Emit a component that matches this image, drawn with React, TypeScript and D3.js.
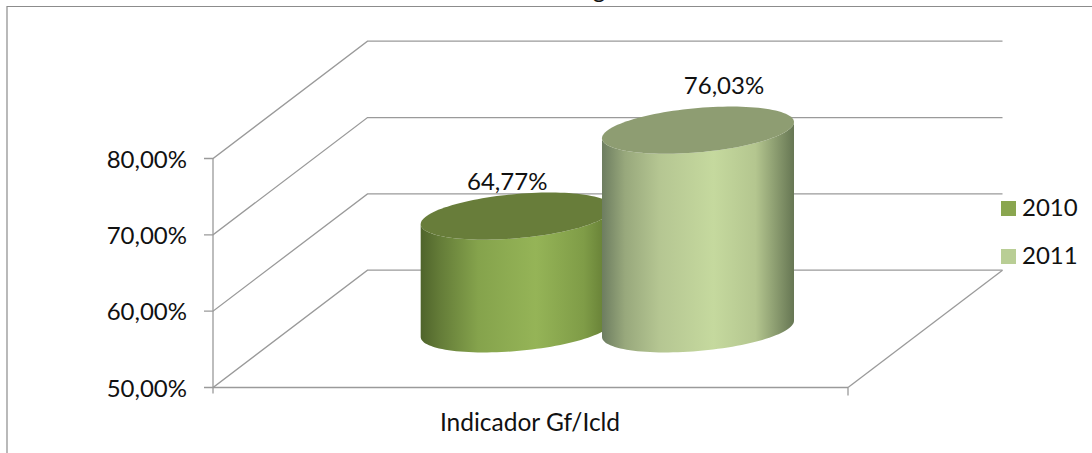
import React from "react";
import * as d3 from "d3";

const seriesNames = ["2010", "2011"];
const seriesValues = [64.77, 76.03];
const valueLabels = ["64,77%", "76,03%"];
const categoryName = "Indicador Gf/Icld";
const clippedTitleGlyph = "g";
const tickValues = [50, 60, 70, 80];
const tickLabels = ["50,00%", "60,00%", "70,00%", "80,00%"];
const legendColors = ["#8aa64f", "#b9ce95"];

const sideStops = [
  [
    ["0%", "#4f642b"],
    ["10%", "#647c38"],
    ["30%", "#85a34c"],
    ["60%", "#95b457"],
    ["85%", "#7f9c47"],
    ["100%", "#5f7731"],
  ],
  [
    ["0%", "#6d7d60"],
    ["12%", "#98a87c"],
    ["30%", "#b5c692"],
    ["58%", "#c5d99e"],
    ["80%", "#b4c68f"],
    ["100%", "#667653"],
  ],
];
const topColors = ["#687d3a", "#8e9d72"];

const FONT = "Lato, 'Open Sans', sans-serif";
const GRID = "#9a9a9a";

const y = d3.scaleLinear().domain([50, 80]).range([387.5, 158.5]);
const floorX = d3.scaleLinear().domain([0, 1]).range([213, 848]);
const depth = { dx: 154.5, dy: -117.3 };
const cat = d3.scaleBand().domain(seriesNames).range([420.7, 794]).paddingInner(-0.059);

const rx = 96;
const ry = 23.6;
const phi = (-20 * Math.PI) / 180;
const baseCy = y(50) + depth.dy / 2;
const h = (v: number) => y(50) - y(v);

function ellipsePt(cx: number, cy: number, t: number): [number, number] {
  return [cx + rx * Math.cos(t), cy + ry * Math.sin(t + phi)];
}
const line = d3.line();
const ts = d3.range(0, 2 * Math.PI + 0.001, Math.PI / 60);
const ellipse = (cx: number, cy: number) => line(ts.map((t) => ellipsePt(cx, cy, t))) + "Z";
function side(cx: number, topCy: number, botCy: number) {
  const lower = d3.range(0, Math.PI + 0.001, Math.PI / 60);
  const bottom = lower.map((t) => ellipsePt(cx, botCy, t));
  const top = lower.slice().reverse().map((t) => ellipsePt(cx, topCy, t));
  return line([...bottom, ...top]) + "Z";
}

export default function App() {
  const x0 = floorX(0);
  const x1 = floorX(1);
  const centers = seriesNames.map((s) => (cat(s) as number) + cat.bandwidth() / 2);
  return (
    <svg
      width={1092}
      height={453}
      style={{ position: "absolute", left: 0, top: 0, background: "#fff", fontFamily: FONT }}
    >
      <defs>
        {sideStops.map((stops, i) => (
          <linearGradient key={i} id={`side${i}`} x1="0" x2="1" y1="0" y2="0">
            {stops.map(([o, c]) => (
              <stop key={o} offset={o} stopColor={c} />
            ))}
          </linearGradient>
        ))}
      </defs>
      <path d="M7,453V6.5H1092" fill="none" stroke="#8c8c8c" strokeWidth={1.2} />
      <text x={599} y={-2} textAnchor="middle" fontSize={24} fill="#111">
        {clippedTitleGlyph}
      </text>

      {/* walls */}
      <line x1={x0} x2={x0} y1={y(80)} y2={y(50) + 6} stroke={GRID} strokeWidth={1.3} />
      <line x1={x1} x2={x1} y1={y(50)} y2={y(50) + 8} stroke={GRID} strokeWidth={1.3} />
      <line x1={x0} x2={x1} y1={y(50)} y2={y(50)} stroke={GRID} strokeWidth={1.3} />
      <line x1={x1} x2={x1 + depth.dx} y1={y(50)} y2={y(50) + depth.dy} stroke={GRID} strokeWidth={1.3} />
      {tickValues.map((v, i) => (
        <g key={v}>
          <path
            d={`M${x0 - 9},${y(v)}H${x0}L${x0 + depth.dx},${y(v) + depth.dy}H${x1 + depth.dx}`}
            fill="none"
            stroke={GRID}
            strokeWidth={1.3}
          />
          <text x={187} y={y(v) + 9} textAnchor="end" fontSize={24} fill="#111">
            {tickLabels[i]}
          </text>
        </g>
      ))}

      {/* cylinders */}
      {seriesValues.map((v, i) => {
        const cx = centers[i];
        const topCy = baseCy - h(v);
        return (
          <g key={i}>
            <path d={side(cx, topCy, baseCy)} fill={`url(#side${i})`} />
            <path d={ellipse(cx, topCy)} fill={topColors[i]} />
          </g>
        );
      })}
      {seriesValues.map((v, i) => (
        <text
          key={i}
          x={centers[i] + (i === 0 ? -9.5 : 26)}
          y={baseCy - h(v) - ry - (i === 0 ? 2.5 : 12.7)}
          textAnchor="middle"
          fontSize={24}
          fill="#111"
        >
          {valueLabels[i]}
        </text>
      ))}

      <text x={530} y={430.5} textAnchor="middle" fontSize={24.5} fill="#111">
        {categoryName}
      </text>

      {/* legend */}
      {seriesNames.map((s, i) => (
        <g key={s}>
          <rect x={1001} y={201 + i * 48} width={15} height={15} fill={legendColors[i]} />
          <text x={1022} y={216 + i * 48} fontSize={24} fill="#111">
            {s}
          </text>
        </g>
      ))}
    </svg>
  );
}
